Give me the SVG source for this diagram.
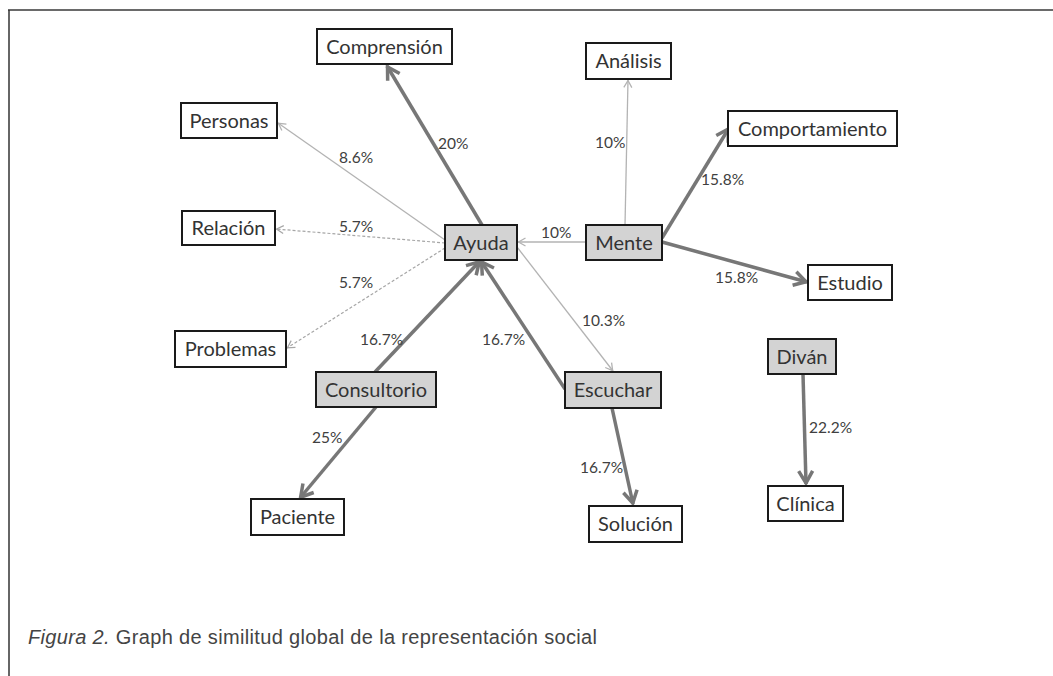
<svg xmlns="http://www.w3.org/2000/svg" width="1053" height="676" viewBox="0 0 1053 676">
<defs>
<style>
.node rect{stroke:#1a1a1a;stroke-width:2;fill:#ffffff}
.node.core rect{fill:#d3d3d3}
.node text{font-family:Lato,"Liberation Sans",sans-serif;font-size:20px;fill:#333333;text-anchor:middle}
.thick{stroke:#777777;stroke-width:3.5;fill:none}
.thin{stroke:#b3b3b3;stroke-width:1.3;fill:none}
.dash{stroke:#a6a6a6;stroke-width:1.2;fill:none;stroke-dasharray:3 2}
.lbl{font-family:Lato,"Liberation Sans",sans-serif;font-size:15.5px;fill:#404040}
.cap{font-family:"Liberation Sans",Arial,sans-serif;font-size:20px;fill:#444444}
</style>
<marker id="ah" markerUnits="userSpaceOnUse" markerWidth="24" markerHeight="24" viewBox="-18 -12 24 24" refX="1" refY="0" orient="auto">
<path d="M-12,-7 L0,0 L-12,7" fill="none" stroke="#777777" stroke-width="3.5"/>
</marker>
<marker id="at" markerUnits="userSpaceOnUse" markerWidth="14" markerHeight="14" viewBox="-10 -7 14 14" refX="0.5" refY="0" orient="auto">
<path d="M-7,-4 L0,0 L-7,4" fill="none" stroke="#b3b3b3" stroke-width="1.3"/>
</marker>
<marker id="ad" markerUnits="userSpaceOnUse" markerWidth="14" markerHeight="14" viewBox="-10 -7 14 14" refX="0.5" refY="0" orient="auto">
<path d="M-7,-4 L0,0 L-7,4" fill="none" stroke="#a6a6a6" stroke-width="1.2"/>
</marker>
</defs>
<rect width="1053" height="676" fill="#ffffff"/>
<g id="frame">
<line x1="8" y1="10" x2="1053" y2="10" stroke="#6a6a6a" stroke-width="2"/>
<line x1="9" y1="10" x2="9" y2="676" stroke="#333333" stroke-width="1.5"/>
</g>
<g id="connectors">
<path class="thick" d="M482,225 L387,66" marker-end="url(#ah)"/>
<path class="thick" d="M375,372 L480,261" marker-end="url(#ah)"/>
<path class="thick" d="M565,389 L481,261" marker-end="url(#ah)"/>
<path class="thick" d="M376,407 L300,498" marker-end="url(#ah)"/>
<path class="thick" d="M612,408 L633,504" marker-end="url(#ah)"/>
<path class="thick" d="M803,374 L806,484" marker-end="url(#ah)"/>
<path class="thick" d="M662,238 L729,128" marker-end="url(#ah)"/>
<path class="thick" d="M662,242 L807,282" marker-end="url(#ah)"/>
<path class="thin" d="M586,242 L518,242" marker-end="url(#at)"/>
<path class="thin" d="M625,225 L628,80" marker-end="url(#at)"/>
<path class="thin" d="M445,240 L278,123" marker-end="url(#at)"/>
<path class="thin" d="M517,247 L613,371" marker-end="url(#at)"/>
<path class="dash" d="M445,243 L276,229" marker-end="url(#ad)"/>
<path class="dash" d="M445,248 L287,348" marker-end="url(#ad)"/>
<text class="lbl" x="438" y="149">20%</text>
<text class="lbl" x="339" y="163">8.6%</text>
<text class="lbl" x="339" y="232">5.7%</text>
<text class="lbl" x="339" y="288">5.7%</text>
<text class="lbl" x="360" y="345">16.7%</text>
<text class="lbl" x="482" y="345">16.7%</text>
<text class="lbl" x="582" y="326">10.3%</text>
<text class="lbl" x="312" y="443">25%</text>
<text class="lbl" x="580" y="473">16.7%</text>
<text class="lbl" x="809" y="433">22.2%</text>
<text class="lbl" x="595" y="148">10%</text>
<text class="lbl" x="701" y="185">15.8%</text>
<text class="lbl" x="541" y="238">10%</text>
<text class="lbl" x="715" y="283">15.8%</text>
</g>
<g id="n-comprension" class="node"><rect x="317" y="29" width="135" height="35"/><text x="384.5" y="53.5">Comprensión</text></g>
<g id="n-personas" class="node"><rect x="181" y="103" width="96" height="35"/><text x="229" y="127.5">Personas</text></g>
<g id="n-relacion" class="node"><rect x="182" y="211" width="93" height="34"/><text x="228.5" y="235">Relación</text></g>
<g id="n-problemas" class="node"><rect x="175" y="331" width="111" height="36"/><text x="230.5" y="356">Problemas</text></g>
<g id="n-ayuda" class="node core"><rect x="445" y="225" width="72" height="35"/><text x="481" y="249.5">Ayuda</text></g>
<g id="n-mente" class="node core"><rect x="586" y="225" width="76" height="35"/><text x="624" y="249.5">Mente</text></g>
<g id="n-analisis" class="node"><rect x="586" y="43" width="85" height="36"/><text x="628.5" y="68">Análisis</text></g>
<g id="n-comportamiento" class="node"><rect x="728" y="111" width="169" height="35"/><text x="812.5" y="135.5">Comportamiento</text></g>
<g id="n-estudio" class="node"><rect x="808" y="265" width="84" height="35"/><text x="850" y="289.5">Estudio</text></g>
<g id="n-consultorio" class="node core"><rect x="316" y="372" width="120" height="35"/><text x="376" y="396.5">Consultorio</text></g>
<g id="n-escuchar" class="node core"><rect x="565" y="372" width="96" height="36"/><text x="613" y="397">Escuchar</text></g>
<g id="n-paciente" class="node"><rect x="251" y="499" width="93" height="36"/><text x="297.5" y="524">Paciente</text></g>
<g id="n-solucion" class="node"><rect x="589" y="506" width="93" height="36"/><text x="635.5" y="531">Solución</text></g>
<g id="n-divan" class="node core"><rect x="768" y="339" width="68" height="35"/><text x="802" y="363.5">Diván</text></g>
<g id="n-clinica" class="node"><rect x="768" y="486" width="75" height="35"/><text x="805.5" y="510.5">Clínica</text></g>
<text class="cap" x="28" y="644" textLength="569" lengthAdjust="spacing"><tspan font-style="italic">Figura 2.</tspan> Graph de similitud global de la representación social</text>
</svg>
